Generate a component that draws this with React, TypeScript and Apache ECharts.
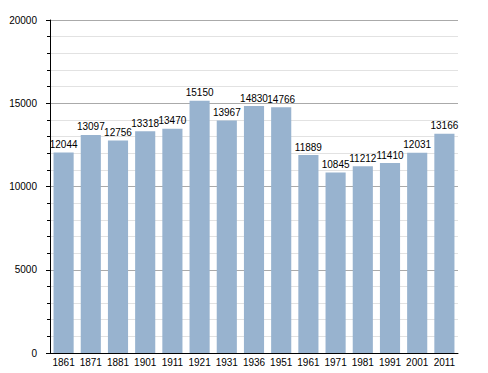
import React, { useEffect, useRef } from "react";
import * as echarts from "echarts";

const years = ["1861", "1871", "1881", "1901", "1911", "1921", "1931", "1936", "1951", "1961", "1971", "1981", "1991", "2001", "2011"];
const population = [12044, 13097, 12756, 13318, 13470, 15150, 13967, 14830, 14766, 11889, 10845, 11212, 11410, 12031, 13166];

const FONT = "Liberation Sans, Arial, sans-serif";

export default function App() {
  const ref = useRef<HTMLDivElement>(null);
  useEffect(() => {
    const chart = echarts.init(ref.current!, null, { renderer: "svg" });
    chart.setOption({
      animation: false,
      grid: { left: 50, right: 30, top: 20, bottom: 20 },
      xAxis: {
        type: "category",
        data: years,
        axisLine: { lineStyle: { color: "#000", width: 1 } },
        axisTick: { show: false },
        axisLabel: { color: "#000", fontSize: 10, fontFamily: FONT, margin: 4, interval: 0 },
      },
      yAxis: {
        type: "value",
        min: 0,
        max: 20000,
        interval: 5000,
        axisLine: { show: true, lineStyle: { color: "#000", width: 1 } },
        axisTick: { show: true, length: 4, lineStyle: { color: "#000" } },
        minorTick: { show: true, splitNumber: 5, length: 3, lineStyle: { color: "#000" } },
        axisLabel: { color: "#000", fontSize: 10, fontFamily: FONT, margin: 13, formatter: (v: number) => String(v) },
        splitLine: { lineStyle: { color: "#aaaaaa", width: 1 } },
        minorSplitLine: { show: true, lineStyle: { color: "#e2e2e2", width: 1 } },
      },
      series: [
        {
          type: "bar",
          data: population,
          barCategoryGap: "26%",
          itemStyle: { color: "#98b3cf" },
          label: {
            show: true,
            position: "top",
            distance: 3,
            color: "#000",
            fontSize: 10,
            fontFamily: FONT,
          },
        },
      ],
    });
    return () => chart.dispose();
  }, []);
  return <div ref={ref} style={{ width: 488, height: 373, position: "absolute", left: 0, top: 0 }} />;
}
